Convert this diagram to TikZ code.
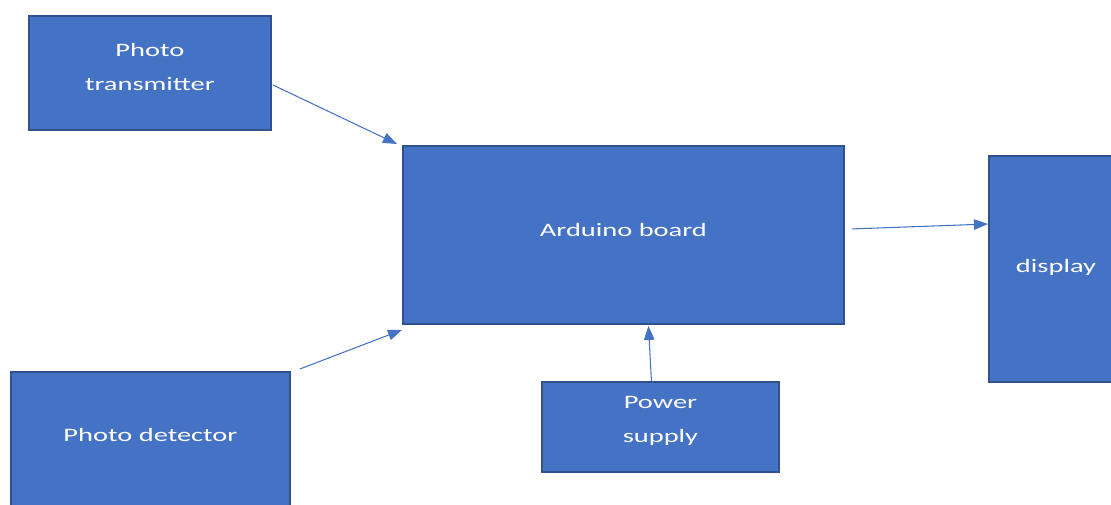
\documentclass[tikz,border=0pt]{standalone}
\usepackage{fontspec}
\newfontfamily\boxfont[FakeStretch=1.5]{Carlito}
\usetikzlibrary{arrows.meta, calc}
\definecolor{boxblue}{HTML}{4472C4}
\definecolor{boxedge}{HTML}{2F528F}
\tikzstyle{block} = [
  rectangle,
  anchor=north west,
  draw=boxedge,
  line width=1.1pt,
  fill=boxblue,
  text=white,
  align=center,
  inner sep=0,
  font=\boxfont\fontsize{10.8pt}{19.5pt}\selectfont
]
\tikzstyle{arrow} = [
  draw=boxblue,
  line width=0.6pt,
  -{Triangle[length=8pt, width=6pt]}
]

\begin{document}
\begin{tikzpicture}[x=0.02cm, y=-0.02cm]

    \useasboundingbox (0,0) rectangle (1111,504);
    \clip (0,0) rectangle (1111,504);

    \node (tx) [block, minimum width=4.84cm, minimum height=2.28cm, text depth=6.8pt] at (28,15) {Photo\\transmitter};
    \node (ard) [block, minimum width=8.82cm, minimum height=3.56cm] at (402,145) {\raisebox{6pt}{Arduino board}};
    \node (disp) [block, minimum width=2.8cm, minimum height=4.52cm, text width=1.72cm, align=left, inner xsep=0.54cm] at (988,155) {\raisebox{4pt}{display}};
    \node (det) [block, minimum width=5.58cm, minimum height=3cm] at (10,371) {\raisebox{14.2pt}{Photo detector}};
    \node (pwr) [block, minimum width=4.74cm, minimum height=1.8cm, text depth=8.3pt] at (541,381) {Power\\supply};

    \draw [arrow] ($(tx.east)+(1,12)$) -- ($(ard.north west)+(-5,-1)$);
    \draw [arrow] ($(det.north east)+(9,-2)$) -- ($(ard.south west)+(0,5)$);
    \draw [arrow] ($(pwr.north)+(-9,0)$) -- ($(ard.south)+(25,1)$);
    \draw [arrow] ($(ard.east)+(7,-6)$) -- ($(disp.north west)+(0,69)$);

\end{tikzpicture}
\end{document}
